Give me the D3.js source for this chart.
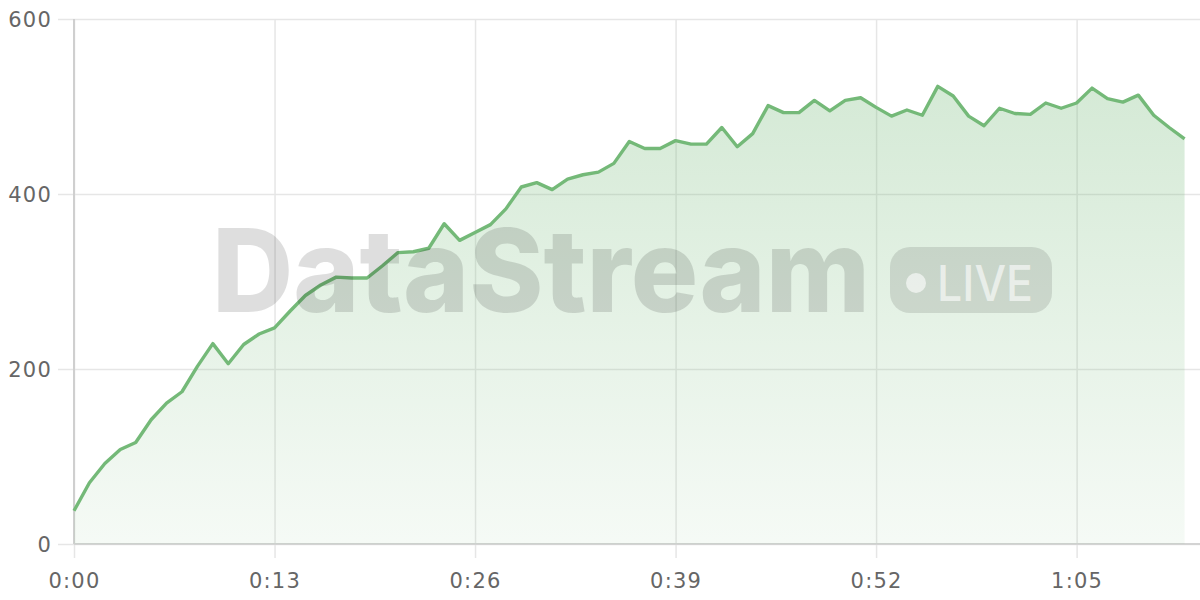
<!DOCTYPE html>
<html lang="en">
<head>
    <meta charset="UTF-8">
    <title>DataStream live chart</title>
    <script src="https://d3js.org/d3.v7.min.js"></script>
    <style>
        body { margin: 0; background: #fff; }
        .tick text { font-family: "DejaVu Sans", sans-serif; font-size: 21px; letter-spacing: 1.2px; fill: #666; }
    </style>
</head>
<body>
<div id="chart"></div>
<script>
    // seconds since start
    const seconds = d3.range(0, 73);
    const values = [38, 70, 92, 108, 116, 142, 161, 174, 203, 229, 206, 228, 240, 247, 266, 284, 296, 305, 304, 304,
        318, 333, 334, 338, 366, 347, 356, 365, 383, 408, 413, 405, 417, 422, 425, 435, 460, 452, 452, 461,
        457, 457, 476, 454, 469, 501, 493, 493, 507, 495, 507, 510, 499, 489, 496, 490, 523, 512, 489, 478,
        498, 492, 491, 504, 498, 504, 521, 509, 505, 513, 490, 476, 463];
    const xTicks = [0, 13, 26, 39, 52, 65];
    const xTickLabels = ["0:00", "0:13", "0:26", "0:39", "0:52", "1:05"];
    const yTicks = [0, 200, 400, 600];

    const data = seconds.map((s, i) => ({ t: s, v: values[i] }));

    const W = 1200, H = 600;
    const margin = { top: 19, right: 0, bottom: 56, left: 74 };
    const width = W - margin.left - margin.right;
    const height = H - margin.top - margin.bottom;

    const svg = d3.select("#chart").append("svg")
        .attr("width", W)
        .attr("height", H);

    const defs = svg.append("defs");
    const grad = defs.append("linearGradient")
        .attr("id", "areaFill")
        .attr("gradientUnits", "userSpaceOnUse")
        .attr("x1", 0).attr("x2", 0)
        .attr("y1", 0).attr("y2", height);
    grad.append("stop").attr("offset", "0%").attr("stop-color", "#74b978").attr("stop-opacity", 0.34);
    grad.append("stop").attr("offset", "100%").attr("stop-color", "#74b978").attr("stop-opacity", 0.07);

    const g = svg.append("g")
        .attr("transform", "translate(" + margin.left + "," + margin.top + ")");

    const x = d3.scaleLinear().domain([0, 73]).range([0, width]);
    const y = d3.scaleLinear().domain([0, 600]).range([height, 0]);

    // y grid + labels
    const yAxis = g.append("g")
        .call(d3.axisLeft(y).tickValues(yTicks).tickSize(-width).tickPadding(22));
    yAxis.select(".domain").remove();
    yAxis.selectAll(".tick line")
        .attr("x1", -16)
        .attr("stroke", "#e6e6e6")
        .attr("stroke-width", 1.5);
    yAxis.selectAll(".tick text").attr("dy", "0.38em");

    // x grid + labels
    const xAxis = g.append("g")
        .attr("transform", "translate(0," + height + ")")
        .call(d3.axisBottom(x).tickValues(xTicks)
            .tickFormat((d, i) => xTickLabels[i])
            .tickSize(-height).tickPadding(29));
    xAxis.select(".domain").remove();
    xAxis.selectAll(".tick line")
        .attr("y1", 14)
        .attr("stroke", "#e6e6e6")
        .attr("stroke-width", 1.5);

    // axis lines
    g.append("line")
        .attr("x1", 0).attr("x2", 0)
        .attr("y1", 0).attr("y2", height)
        .attr("stroke", "#cfcfcf").attr("stroke-width", 2);
    g.append("line")
        .attr("x1", 0).attr("x2", width)
        .attr("y1", height).attr("y2", height)
        .attr("stroke", "#d3d3d3").attr("stroke-width", 2);

    // filled area
    const area = d3.area()
        .x(d => x(d.t))
        .y0(height)
        .y1(d => y(d.v));
    g.append("path")
        .datum(data)
        .attr("fill", "url(#areaFill)")
        .attr("d", area);

    // watermark
    const wm = svg.append("g").attr("pointer-events", "none");
    wm.append("text")
        .attr("x", 212)
        .attr("y", 312)
        .attr("textLength", 658)
        .attr("lengthAdjust", "spacingAndGlyphs")
        .style("font-family", "Inter, 'DejaVu Sans', sans-serif")
        .style("font-weight", 800)
        .style("font-size", "115px")
        .style("fill", "rgba(0,0,0,0.13)")
        .text("DataStream");
    wm.append("rect")
        .attr("x", 890).attr("y", 247)
        .attr("width", 162).attr("height", 66)
        .attr("rx", 20)
        .style("fill", "rgba(0,0,0,0.11)");
    wm.append("circle")
        .attr("cx", 916).attr("cy", 283)
        .attr("r", 10)
        .style("fill", "rgba(255,255,255,0.6)");
    wm.append("text")
        .attr("x", 937)
        .attr("y", 301)
        .attr("textLength", 96)
        .attr("lengthAdjust", "spacingAndGlyphs")
        .style("font-family", "Inter, 'DejaVu Sans', sans-serif")
        .style("font-weight", 500)
        .style("font-size", "50px")
        .style("fill", "rgba(255,255,255,0.6)")
        .text("LIVE");

    // line on top
    const line = d3.line()
        .x(d => x(d.t))
        .y(d => y(d.v));
    g.append("path")
        .datum(data)
        .attr("fill", "none")
        .attr("stroke", "#74b978")
        .attr("stroke-width", 3.4)
        .attr("stroke-linejoin", "round")
        .attr("d", line);
</script>
</body>
</html>
